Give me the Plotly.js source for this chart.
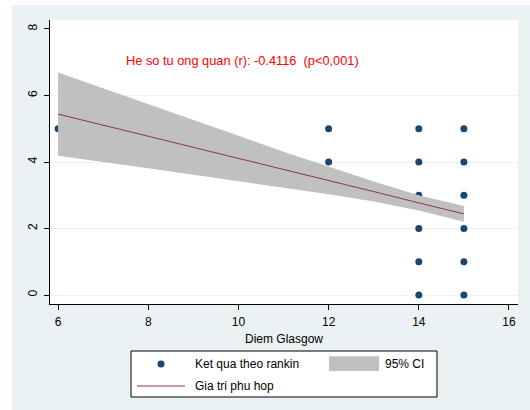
<!DOCTYPE html>
<html>
<head>
<meta charset="utf-8">
<script src="https://cdn.plot.ly/plotly-3.0.1.min.js"></script>
<style>
  html, body { margin: 0; padding: 0; background: #ffffff; }
  #chart { position: absolute; left: 12px; top: 5px; width: 518px; height: 405px; }
</style>
</head>
<body>
<div id="chart"></div>
<script>
// Observed outcome (Rankin score) against Glasgow score
const glasgowScore = [6, 12, 12, 14, 14, 14, 14, 14, 14, 15, 15, 15, 15, 15, 15];
const rankinScore  = [5, 5, 4, 5, 4, 3, 2, 1, 0, 5, 4, 3, 2, 1, 0];

// Linear fit and its 95% confidence band
const fitX     = [6, 7, 8, 9, 10, 11, 12, 13, 14, 15];
const fitY     = [5.44, 5.11, 4.77, 4.44, 4.11, 3.77, 3.44, 3.11, 2.77, 2.44];
const ciUpper  = [6.69, 6.22, 5.73, 5.26, 4.79, 4.31, 3.85, 3.41, 3.00, 2.68];
const ciLower  = [4.19, 4.01, 3.81, 3.62, 3.43, 3.23, 3.03, 2.81, 2.54, 2.20];

// Axis ticks
const xTicks = [6, 8, 10, 12, 14, 16];
const yTicks = [0, 2, 4, 6, 8];
const yGrid  = [0, 2, 4, 6];

// Series names shown in the key
const seriesNames = ['Ket qua theo rankin', '95% CI', 'Gia tri phu hop'];

const corrR = -0.4116;
const corrP = 'p<0,001';

const FONT = 'Liberation Sans, Arial, sans-serif';
const BG = '#EAF2F3';
const DOT = '#1A476F';
const BAND = '#C0C0C0';
const FIT = '#90353B';

const traces = [
  {
    x: glasgowScore, y: rankinScore,
    type: 'scatter', mode: 'markers',
    name: seriesNames[0],
    marker: { color: DOT, size: 7 }
  },
  {
    x: fitX, y: ciLower,
    type: 'scatter', mode: 'lines',
    line: { width: 0, color: BAND },
    hoverinfo: 'skip'
  },
  {
    x: fitX, y: ciUpper,
    type: 'scatter', mode: 'lines',
    name: seriesNames[1],
    fill: 'tonexty', fillcolor: BAND,
    line: { width: 0, color: BAND }
  },
  {
    x: fitX, y: fitY,
    type: 'scatter', mode: 'lines',
    name: seriesNames[2],
    line: { color: FIT, width: 1 }
  },
  // empty trace on yaxis2 so its grid lines are drawn
  { x: [], y: [], yaxis: 'y2', type: 'scatter', hoverinfo: 'skip' }
];

// Boxed key below the plot, laid out in two rows
const keyRow1 = -0.2113, keyRow2 = -0.2887;
const keyText = { family: FONT, size: 12, color: '#000000' };

const shapes = [
  { type: 'rect', xref: 'paper', yref: 'paper', x0: 0.1731, x1: 0.8269, y0: -0.3275, y1: -0.1655,
    fillcolor: '#ffffff', line: { color: '#000000', width: 1 } },
  { type: 'circle', xref: 'paper', yref: 'paper', xsizemode: 'pixel', ysizemode: 'pixel',
    xanchor: 0.2372, yanchor: keyRow1, x0: -3.5, x1: 3.5, y0: -3.5, y1: 3.5,
    fillcolor: DOT, line: { width: 0 } },
  { type: 'rect', xref: 'paper', yref: 'paper', x0: 0.5962, x1: 0.703, y0: -0.2359, y1: -0.1842,
    fillcolor: BAND, line: { width: 0 } },
  { type: 'line', xref: 'paper', yref: 'paper', x0: 0.1859, x1: 0.2885, y0: keyRow2, y1: keyRow2,
    line: { color: FIT, width: 1 } }
];

const annotations = [
  {
    x: 10.08, y: 7.04, xref: 'x', yref: 'y',
    text: 'He so tu ong quan (r): ' + corrR.toFixed(4) + '\u00a0 (' + corrP + ')',
    showarrow: false,
    font: { family: FONT, size: 12.8, color: '#FF0000' }
  },
  { xref: 'paper', yref: 'paper', x: 0.3056, y: keyRow1, xanchor: 'left', yanchor: 'middle',
    text: seriesNames[0], showarrow: false, font: keyText },
  { xref: 'paper', yref: 'paper', x: 0.7115, y: keyRow1, xanchor: 'left', yanchor: 'middle',
    text: seriesNames[1], showarrow: false, font: keyText },
  { xref: 'paper', yref: 'paper', x: 0.3056, y: keyRow2, xanchor: 'left', yanchor: 'middle',
    text: seriesNames[2], showarrow: false, font: keyText }
];

const layout = {
  width: 518, height: 405,
  margin: { l: 38, r: 12, t: 15, b: 106 },
  paper_bgcolor: BG,
  plot_bgcolor: '#ffffff',
  font: { family: FONT, size: 12, color: '#000000' },
  showlegend: false,
  xaxis: {
    range: [5.82, 16.2],
    tickvals: xTicks,
    ticks: 'outside', ticklen: 5, tickcolor: '#000000',
    ticklabelstandoff: 2,
    showline: true, linecolor: '#000000', linewidth: 1,
    showgrid: false, zeroline: false,
    tickfont: { family: FONT, size: 12, color: '#000000' },
    title: { text: 'Diem Glasgow', font: { family: FONT, size: 12, color: '#000000' }, standoff: 6 }
  },
  yaxis: {
    range: [-0.27, 8.27],
    tickvals: yTicks,
    ticks: 'outside', ticklen: 5, tickcolor: '#000000',
    ticklabelstandoff: 2,
    tickangle: -90,
    showline: true, linecolor: '#000000', linewidth: 1,
    showgrid: false, zeroline: false,
    tickfont: { family: FONT, size: 12, color: '#000000' }
  },
  yaxis2: {
    overlaying: 'y', matches: 'y',
    tickvals: yGrid,
    showgrid: true, gridcolor: BG, gridwidth: 1,
    showticklabels: false, ticks: '', zeroline: false, showline: false
  },
  shapes: shapes,
  annotations: annotations
};

Plotly.newPlot('chart', traces, layout, { displayModeBar: false, staticPlot: true });
</script>
</body>
</html>
